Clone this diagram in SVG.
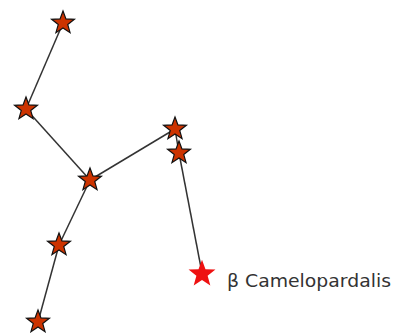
<svg xmlns="http://www.w3.org/2000/svg" xmlns:xlink="http://www.w3.org/1999/xlink" width="394" height="333" viewBox="0 0 394 333">
<style>
.link{stroke:#333;stroke-width:1.5;fill:none}
.star{fill:#cc3300;stroke:#111;stroke-width:1.2;stroke-linejoin:miter}
.beta{fill:#ee1111;stroke:none}
.lbl{font-family:"DejaVu Sans",sans-serif;font-size:18px;fill:#333}
</style>
<defs>
<path id="st" d="M0,-12 L2.94,-4.05 L11.41,-3.71 L4.76,1.55 L7.05,9.71 L0,5 L-7.05,9.71 L-4.76,1.55 L-11.41,-3.71 L-2.94,-4.05 Z"/>
</defs>
<rect width="394" height="333" fill="#fff"/>
<g id="connectors">
<line class="link" x1="63" y1="23" x2="26" y2="109"/>
<line class="link" x1="26" y1="109" x2="90" y2="180"/>
<line class="link" x1="90" y1="180" x2="175" y2="129"/>
<line class="link" x1="175" y1="129" x2="179" y2="153"/>
<line class="link" x1="179" y1="153" x2="202" y2="273"/>
<line class="link" x1="90" y1="180" x2="59" y2="245"/>
<line class="link" x1="59" y1="245" x2="38" y2="322"/>
</g>
<g id="star1"><use href="#st" class="star" x="63" y="23"/></g>
<g id="star2"><use href="#st" class="star" x="26" y="109"/></g>
<g id="star3"><use href="#st" class="star" x="90" y="180"/></g>
<g id="star4"><use href="#st" class="star" x="175" y="129"/></g>
<g id="star5"><use href="#st" class="star" x="179" y="153"/></g>
<g id="star6"><use href="#st" class="star" x="59" y="245"/></g>
<g id="star7"><use href="#st" class="star" x="38" y="322"/></g>
<g id="beta"><use href="#st" class="beta" transform="translate(202 274) scale(1.18)"/>
<text class="lbl" x="227" y="287" textLength="164" lengthAdjust="spacingAndGlyphs">β Camelopardalis</text></g>
</svg>
